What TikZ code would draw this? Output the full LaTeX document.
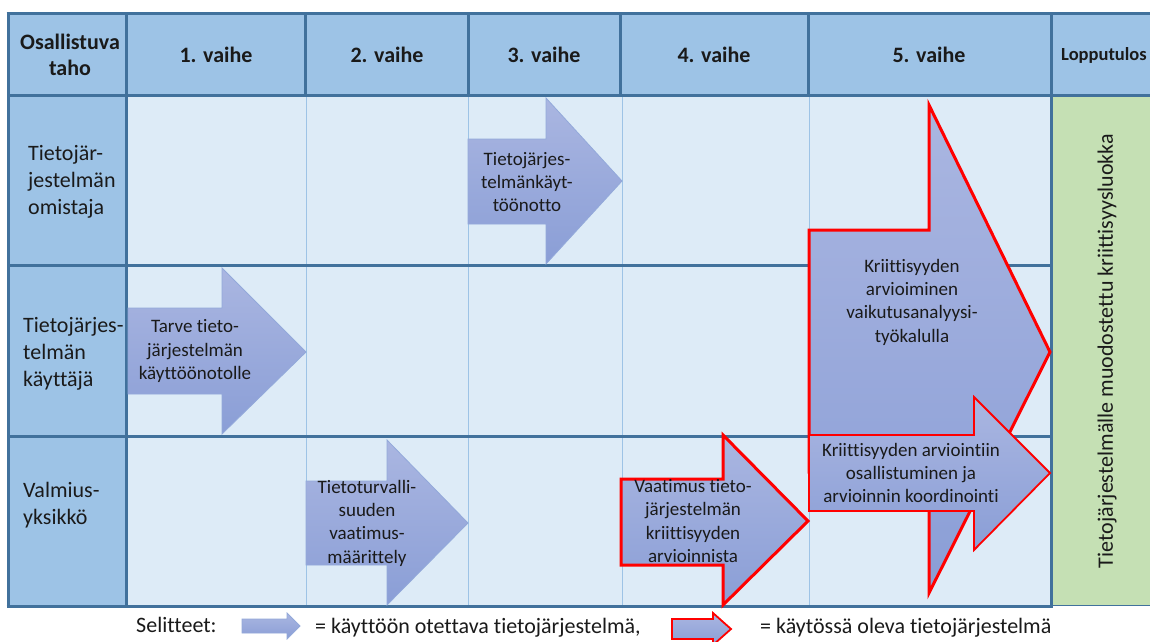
\documentclass[tikz,border=0pt]{standalone}
\usepackage{fontspec}
\setmainfont{Carlito}[Ligatures=CommonOff]
\definecolor{hdr}{HTML}{9DC3E6}
\definecolor{bodyc}{HTML}{DDEBF7}
\definecolor{grid}{HTML}{41719C}
\definecolor{thin}{HTML}{9DC3E6}
\definecolor{grn}{HTML}{C5E0B4}
\definecolor{atop}{HTML}{AAB6E1}
\definecolor{abot}{HTML}{8A9ED6}
\definecolor{aedge}{HTML}{93A9DA}
\definecolor{txt}{HTML}{1A1A1A}
\definecolor{redc}{HTML}{FF0000}
\tikzset{
  gridline/.style={draw=grid,line width=3pt},
  thinline/.style={draw=thin,line width=1pt},
  newarrow/.style={top color=atop,bottom color=abot,draw=aedge,line width=0.8pt,line join=miter},
  oldarrow/.style={top color=atop,bottom color=abot,draw=redc,line width=3pt,line join=miter},
  oldarrowthin/.style={top color=atop,bottom color=abot,draw=redc,line width=1.8pt,line join=miter},
  hdrtext/.style={text=txt,font=\bfseries\fontsize{22}{26.5}\selectfont,align=center,inner sep=0pt},
  rowtext/.style={text=txt,font=\fontsize{22}{26.8}\selectfont,align=left,inner sep=0pt,anchor=west},
  arrtext/.style={text=txt,font=\fontsize{19}{23.3}\selectfont,align=center,inner sep=0pt},
  legtext/.style={text=txt,font=\fontsize{22}{26}\selectfont,inner sep=0pt,anchor=base west}
}
\begin{document}
\begin{tikzpicture}[x=1pt,y=-1pt]
\useasboundingbox (0,0) rectangle (1150,641);
\clip (0,0) rectangle (1150,641);
\fill[white] (0,0) rectangle (1150,641);
% fills
\fill[hdr] (8,13) rectangle (1160,95);
\fill[hdr] (8,95) rectangle (126,605);
\fill[bodyc] (126,95) rectangle (1051,606);
\fill[grn] (1051,95) rectangle (1160,605);
% thin body lines
\foreach \x in {306,468,622,809} \draw[thinline] (\x,95) -- (\x,606);
% thick grid
\draw[gridline] (6.5,13) -- (1160,13);
\draw[gridline] (8,95) -- (1160,95);
\draw[gridline] (8,13) -- (8,606.5);
\draw[gridline] (126,13) -- (126,606);
\foreach \x in {305,468,620,808} \draw[gridline] (\x,13) -- (\x,95);
\draw[gridline] (1051,13) -- (1051,607.5);
\draw[gridline] (8,265) -- (1051,265);
\draw[gridline] (8,436) -- (1051,436);
\draw[gridline] (6.5,606) -- (1052.5,606);
\draw[draw=grid,line width=1.5pt] (1051,605.5) -- (1160,605.5);
% arrows
\path[newarrow] (128,308) -- (222,308) -- (222,268) -- (306,352) -- (222,434) -- (222,394) -- (128,394) -- cycle;
\path[newarrow] (468,139) -- (546,139) -- (546,98) -- (622,181) -- (546,264) -- (546,224) -- (468,224) -- cycle;
\path[newarrow] (306,481) -- (387,481) -- (387,440) -- (468,523) -- (387,605) -- (387,565) -- (306,565) -- cycle;
\path[oldarrow] (621,479) -- (723,479) -- (723,435) -- (808,521) -- (723,605) -- (723,565) -- (621,565) -- cycle;
\path[oldarrow] (809,230) -- (929,230) -- (929,105) -- (1050,352) -- (929,593) -- (929,472) -- (809,472) -- cycle;
\path[oldarrowthin] (809,435) -- (974,435) -- (974,397) -- (1050,473) -- (974,550) -- (974,511) -- (809,511) -- cycle;
% header texts
\node[hdrtext] (h0) at (70,55) {Osallistuva\\taho};
\node[hdrtext] (h1) at (216,55) {1. vaihe};
\node[hdrtext] (h2) at (387,55) {2. vaihe};
\node[hdrtext] (h3) at (544,55) {3. vaihe};
\node[hdrtext] (h4) at (714,55) {4. vaihe};
\node[hdrtext] (h5) at (929,55) {5. vaihe};
\node[hdrtext,anchor=west,font=\bfseries\fontsize{18.5}{22}\selectfont] (h6) at (1061,55) {Lopputulos};
% row labels
\node[rowtext] (r1) at (28,182) {Tietojär-\\jestelmän\\omistaja};
\node[rowtext] (r2) at (23,354) {Tietojärjes-\\telmän\\käyttäjä};
\node[rowtext] (r3) at (23,505) {Valmius-\\yksikkö};
% arrow texts
\node[arrtext] (a1) at (195,351) {Tarve tieto-\\järjestelmän\\käyttöönotolle};
\node[arrtext] (a2) at (527,182) {Tietojärjes-\\telmänkäyt-\\töönotto};
\node[arrtext] (a3) at (367,523) {Tietoturvalli-\\suuden\\vaatimus-\\määrittely};
\node[arrtext] (a4) at (693,521) {Vaatimus tieto-\\järjestelmän\\kriittisyyden\\arvioinnista};
\node[arrtext] (a5) at (912,302) {Kriittisyyden\\arvioiminen\\vaikutusanalyysi-\\työkalulla};
\node[arrtext] (a6) at (911,473) {Kriittisyyden arviointiin\\osallistuminen ja\\arvioinnin koordinointi};
% result
\node[text=txt,font=\fontsize{22}{26}\selectfont,rotate=90,inner sep=0pt] (res) at (1107,351) {Tietojärjestelmälle muodostettu kriittisyysluokka};
% legend
\node[legtext] (l0) at (136,632) {Selitteet:};
\path[newarrow] (242,619) -- (287,619) -- (287,613) -- (300,626) -- (287,639) -- (287,633) -- (242,633) -- cycle;
\node[legtext] (l1) at (315,633) {= käyttöön otettava tietojärjestelmä,};
\path[oldarrowthin] (672,619) -- (713,619) -- (713,613) -- (731,629) -- (713,645) -- (713,639) -- (672,639) -- cycle;
\node[legtext] (l2) at (760,633) {= käytössä oleva tietojärjestelmä};
\end{tikzpicture}
\end{document}
